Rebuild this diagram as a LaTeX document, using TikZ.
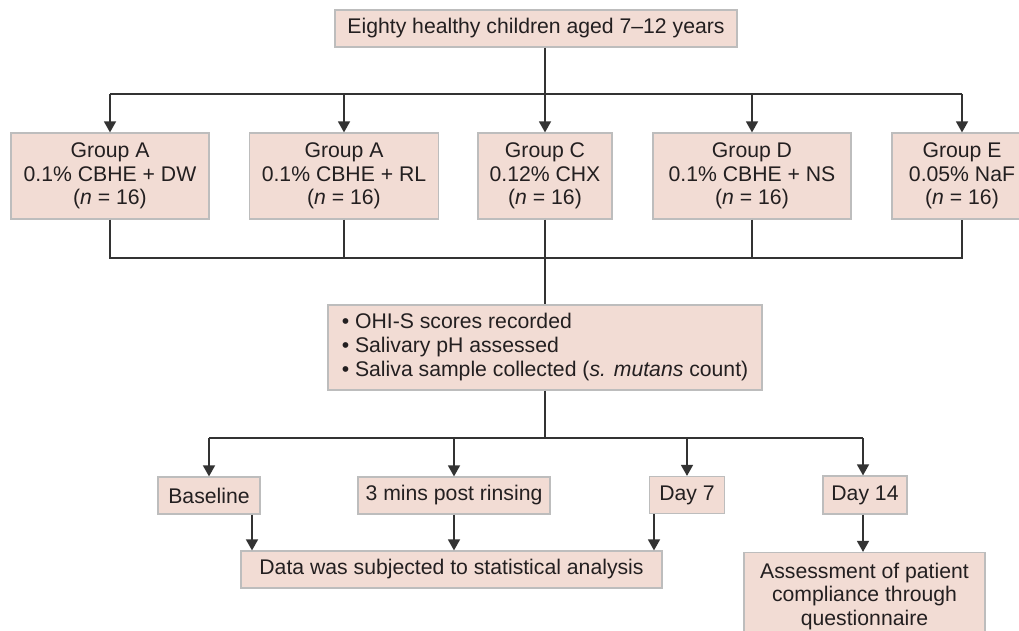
\documentclass[tikz,border=0pt]{standalone}
\usepackage{fontspec}
\setmainfont{Liberation Sans}
\usetikzlibrary{arrows.meta}
\definecolor{boxfill}{HTML}{F2DCD4}
\definecolor{boxline}{HTML}{BDBDBD}
\definecolor{conn}{HTML}{333333}
\definecolor{txt}{HTML}{231F20}
\tikzset{
  box/.style={draw=boxline, line width=1.2pt, fill=boxfill, text=txt, align=center,
    inner sep=0pt, font=\fontsize{21.2}{23.5}\selectfont},
  line/.style={draw=conn, line width=1.5pt},
  arr/.style={line, -{Triangle[width=12pt,length=11pt]}},
}
\begin{document}
\begin{tikzpicture}[x=1pt,y=-1pt]
\useasboundingbox (0,0) rectangle (1019,631);
\clip (0,0) rectangle (1019,631);
\fill[white] (0,0) rectangle (1019,631);

\node[box, minimum width=402pt, minimum height=37pt] (top) at (536,28.5) {Eighty healthy children aged 7--12 years};

\node[box, minimum width=198pt, minimum height=86pt] (A1) at (110,176) {Group A\\0.1\% CBHE + DW\\(\textit{n} = 16)};
\node[box, minimum width=189pt, minimum height=86pt] (A2) at (344,176) {Group A\\0.1\% CBHE + RL\\(\textit{n} = 16)};
\node[box, minimum width=134pt, minimum height=86pt] (C) at (545,176) {Group C\\0.12\% CHX\\(\textit{n} = 16)};
\node[box, minimum width=198pt, minimum height=86pt] (D) at (752,176) {Group D\\0.1\% CBHE + NS\\(\textit{n} = 16)};
\node[box, minimum width=140pt, minimum height=86pt] (E) at (962,176) {Group E\\0.05\% NaF\\(\textit{n} = 16)};

\node[box, minimum width=434pt, minimum height=85pt, align=left, font=\fontsize{21.2}{24}\selectfont] (mid) at (545,347.5)
  {\textbullet\ OHI-S scores recorded\\\textbullet\ Salivary pH assessed\\\textbullet\ Saliva sample collected (\textit{s. mutans} count)};

\node[box, minimum width=102pt, minimum height=37pt] (base) at (209,495.5) {Baseline};
\node[box, minimum width=192pt, minimum height=37pt] (post) at (454,495.5) {3 mins post rinsing};
\node[box, minimum width=75pt, minimum height=37pt] (d7) at (687,495) {Day 7};
\node[box, minimum width=84pt, minimum height=38pt] (d14) at (865,495) {Day 14};

\node[box, minimum width=421pt, minimum height=37pt] (data) at (451.5,569.5) {Data was subjected to statistical analysis};
\node[box, minimum width=241pt, minimum height=88pt] (assess) at (864.5,596.5) {Assessment of patient\\compliance through\\questionnaire};

% top to groups
\coordinate (j1) at (545,94);
\draw[line] (top.south -| j1) -- (j1);
\draw[line] (A1.north |- j1) -- (E.north |- j1);
\foreach \g in {A1,A2,C,D,E} \draw[arr] (\g.north |- j1) -- (\g.north);

% groups to middle
\coordinate (j2) at (545,258);
\draw[line] (A1.south) -- (A1.south |- j2) -- (E.south |- j2) -- (E.south);
\draw[line] (A2.south) -- (A2.south |- j2);
\draw[line] (D.south) -- (D.south |- j2);
\draw[line] (C.south) -- (mid.north);

% middle to time points
\coordinate (j3) at (545,438);
\coordinate (j4) at (863,438);
\draw[line] (mid.south) -- (j3);
\draw[line] (base.north |- j3) -- (j4);
\draw[arr] (base.north |- j3) -- (base.north);
\draw[arr] (post.north |- j3) -- (post.north);
\draw[arr] (d7.north |- j3) -- (d7.north);
\draw[arr] (j4) -- (j4 |- d14.north);

% time points to data
\coordinate (b1) at (252,0);
\coordinate (b3) at (654,0);
\draw[arr] (base.south -| b1) -- (data.north -| b1);
\draw[arr] (post.south) -- (post.south |- data.north);
\draw[arr] (d7.south -| b3) -- (data.north -| b3);
\draw[arr] (j4 |- d14.south) -- (j4 |- assess.north);
\end{tikzpicture}
\end{document}
